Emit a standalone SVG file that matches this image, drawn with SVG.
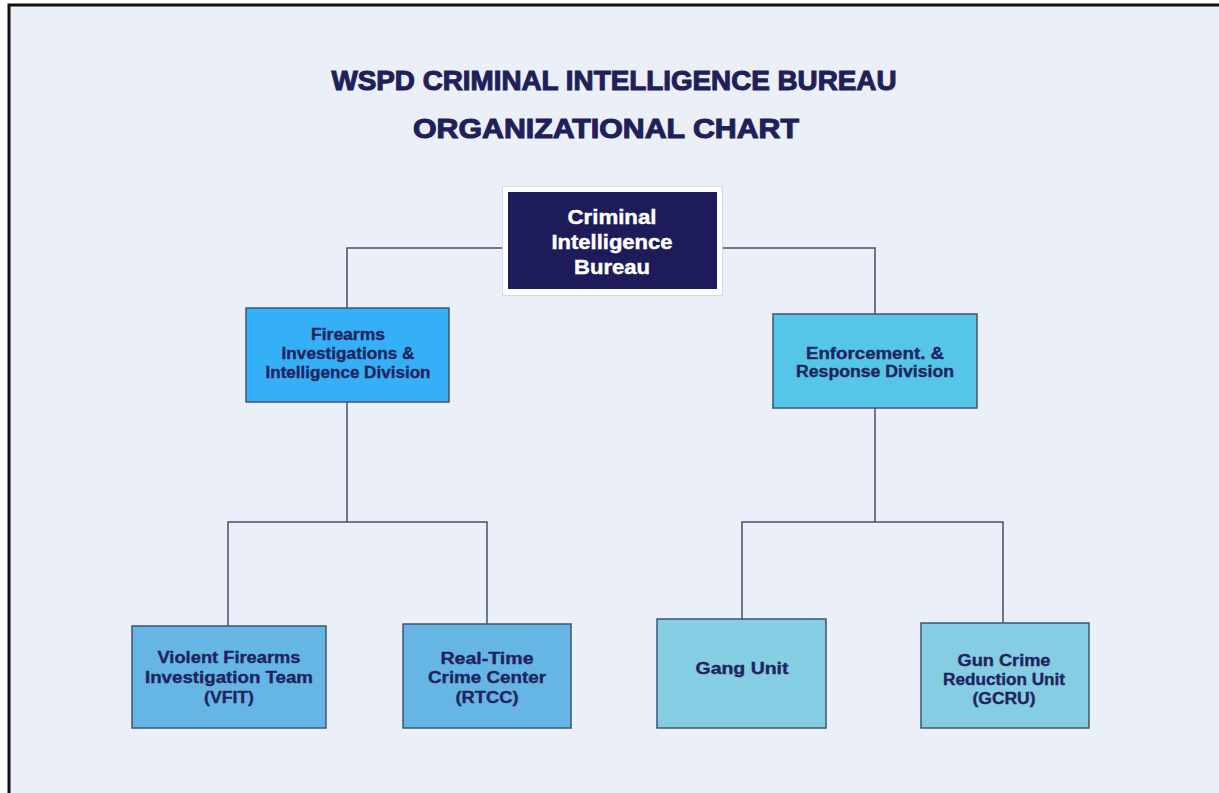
<svg xmlns="http://www.w3.org/2000/svg" width="1219" height="793" viewBox="0 0 1219 793">
<style>
.t{font-family:"Liberation Sans",Arial,sans-serif;font-weight:bold;text-anchor:middle;fill:#1F235E;stroke:#1F235E;stroke-width:0.35;paint-order:stroke}
.title{font-size:28px;fill:#211F5A;stroke:#211F5A;stroke-width:1.1}
.lbl{font-size:16px}
.top{font-size:20px;fill:#FFFFFF;stroke:#FFFFFF;stroke-width:0.4}
.box{stroke:#3E5670;stroke-width:1.5}
.conn{fill:none;stroke:#4A4F6E;stroke-width:1.5}
</style>
<rect x="0" y="0" width="1219" height="793" fill="#FFFFFF"/>
<rect x="9" y="5" width="1220" height="800" fill="#EBEFF8" stroke="#111111" stroke-width="3"/>
<g id="title">
<text class="t title" x="614" y="89.5" textLength="565" lengthAdjust="spacingAndGlyphs">WSPD CRIMINAL INTELLIGENCE BUREAU</text>
<text class="t title" x="606" y="137.5" textLength="386" lengthAdjust="spacingAndGlyphs">ORGANIZATIONAL CHART</text>
</g>
<g id="connectors">
<path class="conn" d="M502 248 H347 V308"/>
<path class="conn" d="M723 248 H875 V314"/>
<path class="conn" d="M347 402 V522"/>
<path class="conn" d="M228 626 V522 H487 V624"/>
<path class="conn" d="M875 408 V522"/>
<path class="conn" d="M742 619 V522 H1003 V623"/>
</g>
<g id="node-cib">
<rect x="502.5" y="186.5" width="220" height="109" fill="#FFFFFF" stroke="#D6D9E0" stroke-width="1"/>
<rect x="508" y="192" width="209" height="97" fill="#1E1B5A"/>
<text class="t top" x="612" y="224" textLength="89" lengthAdjust="spacingAndGlyphs">Criminal</text>
<text class="t top" x="612" y="249" textLength="121" lengthAdjust="spacingAndGlyphs">Intelligence</text>
<text class="t top" x="612" y="274" textLength="76" lengthAdjust="spacingAndGlyphs">Bureau</text>
</g>
<g id="node-fiid">
<rect class="box" x="246" y="308" width="203" height="94" fill="#35B0F7"/>
<text class="t lbl" x="348" y="340" textLength="74" lengthAdjust="spacingAndGlyphs">Firearms</text>
<text class="t lbl" x="348" y="359" textLength="133" lengthAdjust="spacingAndGlyphs">Investigations &amp;</text>
<text class="t lbl" x="348" y="378" textLength="165" lengthAdjust="spacingAndGlyphs">Intelligence Division</text>
</g>
<g id="node-erd">
<rect class="box" x="773" y="314" width="204" height="94" fill="#55C6E8"/>
<text class="t lbl" x="875" y="359" textLength="138" lengthAdjust="spacingAndGlyphs">Enforcement. &amp;</text>
<text class="t lbl" x="875" y="377" textLength="158" lengthAdjust="spacingAndGlyphs">Response Division</text>
</g>
<g id="node-vfit">
<rect class="box" x="132" y="626" width="194" height="102" fill="#66B6E5"/>
<text class="t lbl" x="229" y="663" textLength="143" lengthAdjust="spacingAndGlyphs">Violent Firearms</text>
<text class="t lbl" x="229" y="683" textLength="168" lengthAdjust="spacingAndGlyphs">Investigation Team</text>
<text class="t lbl" x="229" y="703" textLength="50" lengthAdjust="spacingAndGlyphs">(VFIT)</text>
</g>
<g id="node-rtcc">
<rect class="box" x="403" y="624" width="168" height="104" fill="#66B6E5"/>
<text class="t lbl" x="487" y="664" textLength="93" lengthAdjust="spacingAndGlyphs">Real-Time</text>
<text class="t lbl" x="487" y="683" textLength="118" lengthAdjust="spacingAndGlyphs">Crime Center</text>
<text class="t lbl" x="487" y="703" textLength="63" lengthAdjust="spacingAndGlyphs">(RTCC)</text>
</g>
<g id="node-gang">
<rect class="box" x="657" y="619" width="169" height="109" fill="#84CDE2"/>
<text class="t lbl" x="742" y="674" textLength="93" lengthAdjust="spacingAndGlyphs">Gang Unit</text>
</g>
<g id="node-gcru">
<rect class="box" x="921" y="623" width="168" height="105" fill="#84CDE2"/>
<text class="t lbl" x="1004" y="666" textLength="93" lengthAdjust="spacingAndGlyphs">Gun Crime</text>
<text class="t lbl" x="1004" y="685" textLength="122" lengthAdjust="spacingAndGlyphs">Reduction Unit</text>
<text class="t lbl" x="1004" y="704" textLength="63" lengthAdjust="spacingAndGlyphs">(GCRU)</text>
</g>
</svg>
